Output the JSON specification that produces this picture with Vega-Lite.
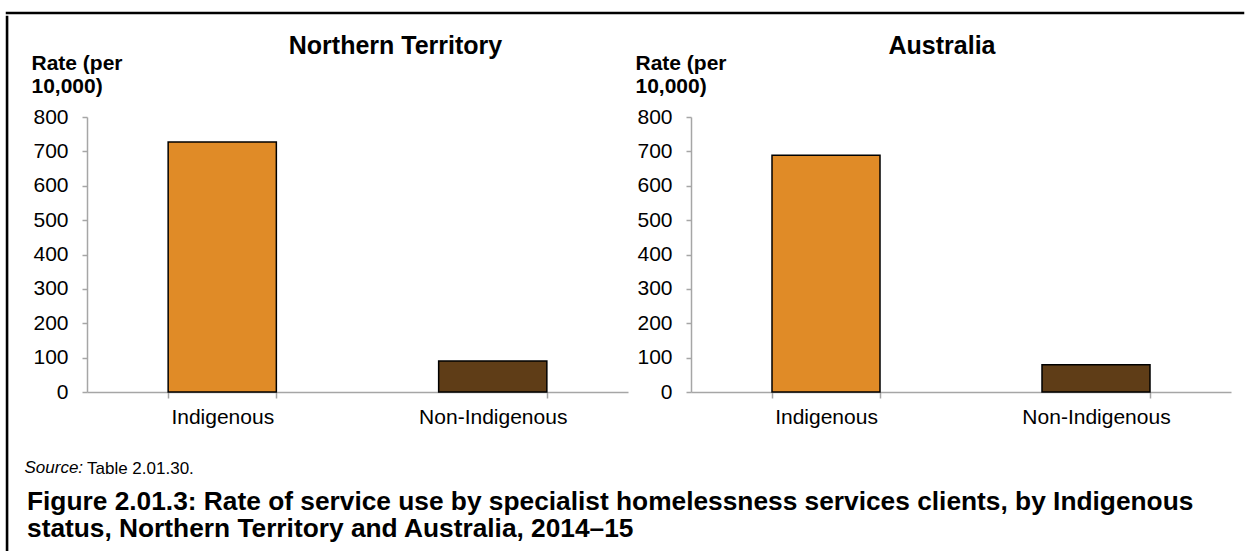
{
  "$schema": "https://vega.github.io/schema/vega-lite/v6.json",
  "padding": {"left": 5, "top": 11, "right": 0, "bottom": 0},
  "background": "white",
  "config": {
    "view": {"stroke": null},
    "font": "Liberation Sans",
    "title": {"color": "black", "font": "Liberation Sans"},
    "axis": {"labelFont": "Liberation Sans", "titleFont": "Liberation Sans", "labelColor": "black", "titleColor": "black", "grid": false, "domainColor": "#A6A6A6", "tickColor": "#A6A6A6"}
  },
  "datasets": {
    "rates": [
      {"region": "Northern Territory", "status": "Indigenous", "rate": 727},
      {"region": "Northern Territory", "status": "Non-Indigenous", "rate": 90},
      {"region": "Australia", "status": "Indigenous", "rate": 689},
      {"region": "Australia", "status": "Non-Indigenous", "rate": 79}
    ]
  },
  "spacing": 0,
  "vconcat": [
    {"width": 1236, "height": 0.1, "data": {"values": []}, "mark": "point", "view": {"stroke": "black", "strokeWidth": 2.5}},
    {
      "spacing": 15,
      "hconcat": [
        {"width": 0.1, "height": 533, "data": {"values": []}, "mark": "point", "view": {"stroke": "black", "strokeWidth": 2.5}},
        {
          "spacing": 16,
          "title": {"text": ["Figure 2.01.3: Rate of service use by specialist homelessness services clients, by Indigenous", "status, Northern Territory and Australia, 2014–15"], "orient": "bottom", "anchor": "start", "fontSize": 26.3, "fontWeight": "bold", "lineHeight": 27, "offset": 12, "dx": 3},
          "vconcat": [
            {"width": 0.1, "height": 0.1, "data": {"values": []}, "mark": "point"},
            {
              "spacing": 7,
              "title": {"text": "Table 2.01.30.", "orient": "bottom", "anchor": "start", "fontSize": 17, "fontWeight": "normal", "dx": 63, "offset": -14},
              "hconcat": [
                {
                  "width": 541, "height": 275,
                  "title": {"text": "Northern Territory", "fontSize": 25, "fontWeight": "bold", "frame": "group", "anchor": "middle", "dx": 38, "offset": -7},
                  "data": {"name": "rates"},
                  "transform": [{"filter": "datum.region === 'Northern Territory'"}],
                  "mark": {"type": "bar", "stroke": "black", "strokeWidth": 1.5},
                  "encoding": {
                    "x": {"field": "status", "type": "nominal", "sort": null, "scale": {"paddingInner": 0.6, "paddingOuter": 0.3},
                      "axis": {"title": "Source:", "titleFontStyle": "italic", "titleFontWeight": "normal", "titleFontSize": 17, "titleAnchor": "start", "titleAlign": "left", "titleBaseline": "alphabetic", "titleX": -63, "titleY": 80, "labelFontSize": 21, "labelAngle": 0, "labelPadding": 8, "tickBand": "extent", "tickSize": 6, "domainWidth": 1.5, "tickWidth": 1.5}},
                    "y": {"field": "rate", "type": "quantitative", "scale": {"domain": [0, 800]},
                      "axis": {"values": [0, 100, 200, 300, 400, 500, 600, 700, 800], "title": ["Rate (per", "10,000)"], "titleAngle": 0, "titleAlign": "left", "titleBaseline": "alphabetic", "titleX": -56, "titleY": -48, "titleFontSize": 21, "titleFontWeight": "bold", "titleLineHeight": 23, "labelFontSize": 21, "labelPadding": 14, "tickSize": 5, "domainWidth": 1.5, "tickWidth": 1.5}},
                    "color": {"field": "status", "type": "nominal", "scale": {"domain": ["Indigenous", "Non-Indigenous"], "range": ["#E08B27", "#5F3D17"]}, "legend": null}
                  }
                },
                {
                  "width": 540, "height": 275,
                  "title": {"text": "Australia", "fontSize": 25, "fontWeight": "bold", "frame": "group", "anchor": "middle", "dx": -19, "offset": -7},
                  "data": {"name": "rates"},
                  "transform": [{"filter": "datum.region === 'Australia'"}],
                  "mark": {"type": "bar", "stroke": "black", "strokeWidth": 1.5},
                  "encoding": {
                    "x": {"field": "status", "type": "nominal", "sort": null, "scale": {"paddingInner": 0.6, "paddingOuter": 0.3},
                      "axis": {"title": null, "labelFontSize": 21, "labelAngle": 0, "labelPadding": 8, "tickBand": "extent", "tickSize": 6, "domainWidth": 1.5, "tickWidth": 1.5}},
                    "y": {"field": "rate", "type": "quantitative", "scale": {"domain": [0, 800]},
                      "axis": {"values": [0, 100, 200, 300, 400, 500, 600, 700, 800], "title": ["Rate (per", "10,000)"], "titleAngle": 0, "titleAlign": "left", "titleBaseline": "alphabetic", "titleX": -56, "titleY": -48, "titleFontSize": 21, "titleFontWeight": "bold", "titleLineHeight": 23, "labelFontSize": 21, "labelPadding": 14, "tickSize": 5, "domainWidth": 1.5, "tickWidth": 1.5}},
                    "color": {"field": "status", "type": "nominal", "scale": {"domain": ["Indigenous", "Non-Indigenous"], "range": ["#E08B27", "#5F3D17"]}, "legend": null}
                  }
                }
              ]
            }
          ]
        }
      ]
    }
  ]
}
